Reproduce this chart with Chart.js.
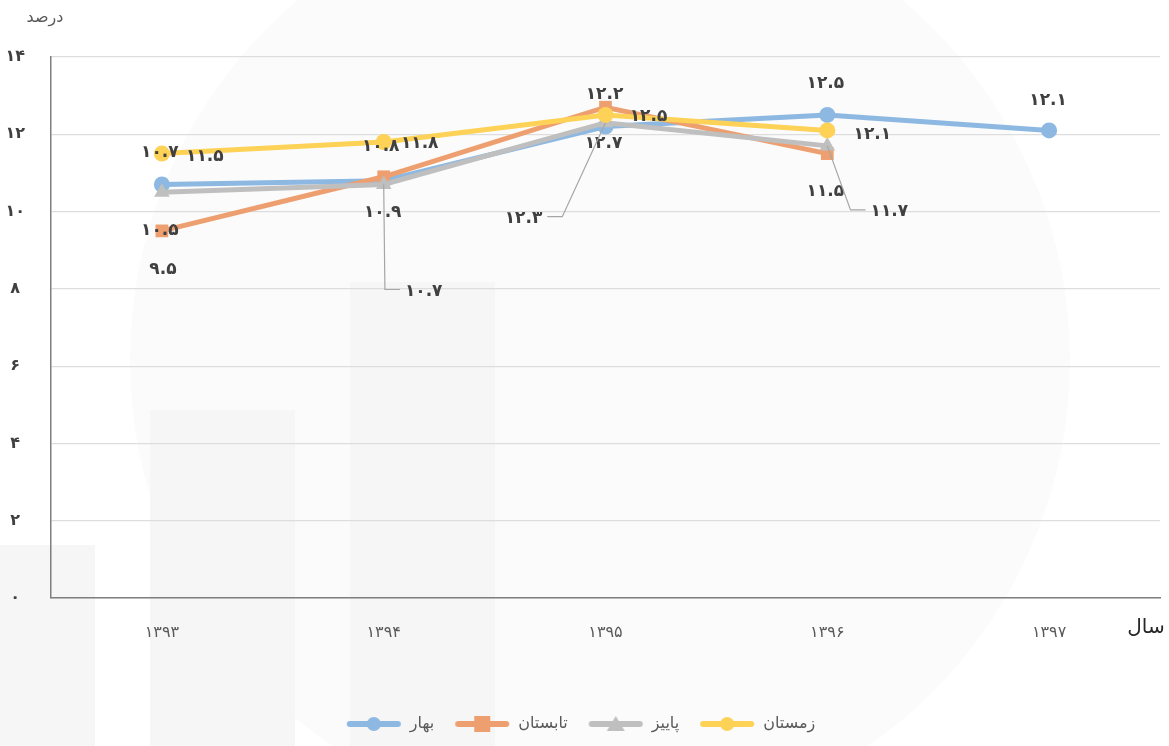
<!DOCTYPE html>
<html>
<head>
<meta charset="utf-8">
<script src="https://cdn.jsdelivr.net/npm/chart.js@4/dist/chart.umd.min.js"></script>
<style>
  html, body { margin: 0; padding: 0; background: #fff; }
  #wrap { width: 1169px; height: 746px; position: relative; }
</style>
</head>
<body>
<div id="wrap"><canvas id="chart"></canvas></div>
<script>
// years and seasonal values (percent)
const years = ['1393', '1394', '1395', '1396', '1397'];
const spring = [10.7, 10.8, 12.2, 12.5, 12.1];   // بهار
const summer = [9.5, 10.9, 12.7, 11.5, null];    // تابستان
const autumn = [10.5, 10.7, 12.3, 11.7, null];   // پاییز
const winter = [11.5, 11.8, 12.5, 12.1, null];   // زمستان
const seriesNames = ['بهار', 'تابستان', 'پاییز', 'زمستان'];
const yTicks = [0, 2, 4, 6, 8, 10, 12, 14];

const colors = ['#8cb8e2', '#ee9f6f', '#bfbfbf', '#fdd256'];
const markers = ['circle', 'rect', 'triangle', 'circle'];

// label offsets [dx, dy, leader]
const labelOffsets = [
  [[-2, -32], [-3, -34], [-1, -32], [-2, -31], [-1, -30]],
  [[1, 39], [-1, 36], [-2, 36], [-2, 38]],
  [[-2, 38], [40, 107, true], [-82, 96, true], [62, 66, true]],
  [[43, 3], [36, 2], [43, 2], [45, 4]]
];

function fa(s) {
  return String(s).replace(/[0-9]/g, d => '۰۱۲۳۴۵۶۷۸۹'[d]);
}

// legend symbol: line with marker
function legendIcon(color, style) {
  const c = document.createElement('canvas');
  c.width = 56; c.height = 18;
  const g = c.getContext('2d');
  g.strokeStyle = color; g.fillStyle = color;
  g.lineWidth = 6; g.lineCap = 'round';
  g.beginPath(); g.moveTo(4, 9); g.lineTo(52, 9); g.stroke();
  g.beginPath();
  if (style === 'circle') g.arc(28, 9, 7, 0, Math.PI * 2);
  else if (style === 'rect') g.rect(20, 1, 16, 16);
  else { g.moveTo(28, 1); g.lineTo(37, 16); g.lineTo(19, 16); g.closePath(); }
  g.fill();
  return c;
}

const watermark = {
  id: 'watermark',
  beforeDraw(chart) {
    const ctx = chart.ctx;
    ctx.save();
    ctx.fillStyle = '#fbfbfb';
    ctx.beginPath(); ctx.arc(600, 360, 470, 0, Math.PI * 2); ctx.fill();
    ctx.fillStyle = '#f6f6f6';
    ctx.fillRect(0, 545, 95, 201);
    ctx.fillRect(150, 410, 145, 336);
    ctx.fillRect(350, 282, 145, 464);
    ctx.restore();
  }
};

const dataLabels = {
  id: 'dataLabels',
  afterDatasetsDraw(chart) {
    const ctx = chart.ctx;
    ctx.save();
    ctx.font = 'bold 17px "DejaVu Sans"';
    ctx.fillStyle = '#404040';
    ctx.textAlign = 'center';
    ctx.textBaseline = 'middle';
    chart.data.datasets.forEach((ds, i) => {
      const meta = chart.getDatasetMeta(i);
      meta.data.forEach((pt, j) => {
        const v = ds.data[j];
        if (v == null) return;
        const off = labelOffsets[i][j];
        const lx = pt.x + off[0], ly = pt.y + off[1];
        const txt = fa(v.toFixed(1));
        if (off[2]) {
          const w = ctx.measureText(txt).width;
          const side = off[0] > 0 ? -1 : 1;
          const end = lx + side * (w / 2 + 5);
          const elbow = end + side * 15;
          ctx.strokeStyle = '#a6a6a6';
          ctx.lineWidth = 1.2;
          ctx.beginPath();
          ctx.moveTo(pt.x, pt.y);
          ctx.lineTo(elbow, ly - 2);
          ctx.lineTo(end, ly - 2);
          ctx.stroke();
        }
        ctx.fillText(txt, lx, ly);
      });
    });
    // axis titles
    ctx.font = '16px "DejaVu Sans"';
    ctx.fillStyle = '#595959';
    ctx.fillText('درصد', 45, 18);
    ctx.font = '20px "DejaVu Sans"';
    ctx.fillStyle = '#262626';
    ctx.fillText('سال', 1146, 628);
    ctx.restore();
  }
};

const allSeries = [spring, summer, autumn, winter];

new Chart(document.getElementById('chart'), {
  type: 'line',
  data: {
    labels: years,
    datasets: allSeries.map((vals, i) => ({
      label: seriesNames[i],
      data: vals,
      borderColor: colors[i],
      backgroundColor: colors[i],
      borderWidth: 5,
      pointStyle: markers[i],
      pointRadius: markers[i] === 'circle' ? 8 : 9,
      pointBorderWidth: 0,
      order: 4 - i,
      tension: 0
    }))
  },
  options: {
    responsive: true,
    maintainAspectRatio: false,
    animation: false,
    layout: { padding: { top: 57, right: 8, left: 0, bottom: 4 } },
    plugins: {
      tooltip: { enabled: false },
      legend: {
        position: 'bottom',
        labels: {
          usePointStyle: true,
          pointStyleWidth: 56,
          padding: 20,
          color: '#595959',
          font: { family: '"DejaVu Sans"', size: 16 },
          generateLabels(chart) {
            return chart.data.datasets.map((ds, i) => ({
              text: ds.label,
              pointStyle: legendIcon(colors[i], markers[i]),
              fillStyle: colors[i],
              strokeStyle: colors[i],
              lineWidth: 0,
              fontColor: '#595959',
              datasetIndex: i
            }));
          }
        }
      }
    },
    scales: {
      x: {
        offset: true,
        grid: { display: false, drawTicks: false },
        border: { color: '#7f7f7f', width: 1.5 },
        ticks: { color: '#595959', padding: 25, font: { family: '"DejaVu Sans"', size: 16 },
          callback(v, i) { return fa(years[i]); } },
        afterFit(s) { s.height = 98; }
      },
      y: {
        min: 0, max: 14,
        afterBuildTicks(s) { s.ticks = yTicks.map(v => ({ value: v })); },
        grid: { color: '#dddddd', lineWidth: 1.2, drawTicks: false },
        border: { color: '#7f7f7f', width: 1.5 },
        ticks: { color: '#404040', padding: 26, crossAlign: 'center',
          font: { family: '"DejaVu Sans"', size: 16, weight: 'bold' },
          callback(v) { return fa(v); } },
        afterFit(s) { s.width = 51; }
      }
    }
  },
  plugins: [watermark, dataLabels]
});
</script>
</body>
</html>
